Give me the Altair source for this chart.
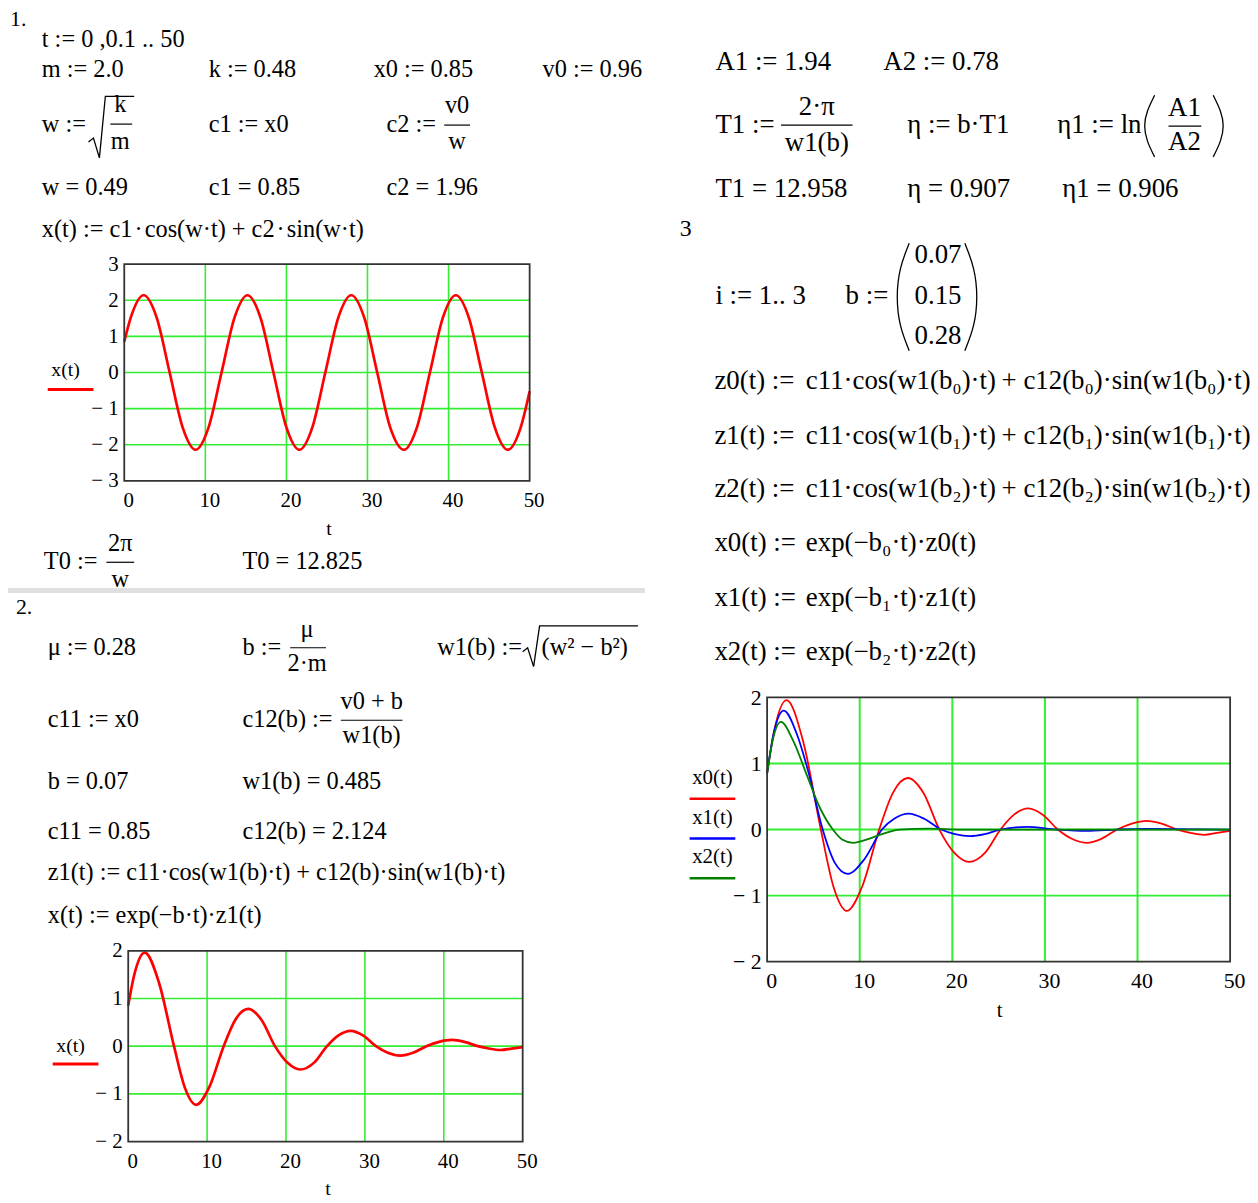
import altair as alt
import pandas as pd

# ---------------- values ----------------
# plot 1: free oscillation x(t)
t_free = [0, 0.8, 2.4, 4.0, 5.6, 7.2, 8.8, 10.4, 12.0, 13.6, 15.2, 16.8, 18.4, 20.0, 21.6, 23.2, 24.8,
          26.4, 28.0, 29.6, 31.2, 32.8, 34.5, 36.1, 37.7, 39.3, 40.9, 42.5, 44.1, 45.7, 47.3, 48.9, 50]
x_free = [0.85, 1.52, 2.14, 1.52, 0.0, -1.52, -2.14, -1.52, 0.0, 1.52, 2.14, 1.52, 0.0, -1.52, -2.14, -1.52, 0.0,
          1.52, 2.14, 1.52, 0.0, -1.52, -2.14, -1.52, 0.0, 1.52, 2.14, 1.52, 0.0, -1.52, -2.14, -1.52, -0.52]

# plot 2 and red curve of plot 3: damped, b0 = 0.07
t_b0 = [0, 0.7, 2.1, 3.9, 5.8, 7.2, 8.6, 10.3, 12.1, 13.6, 15.2, 16.9, 18.6, 20.2, 21.8, 23.6, 25.2,
        26.7, 28.2, 29.8, 31.4, 32.9, 34.5, 36.1, 37.8, 39.4, 41.0, 42.6, 44.3, 45.7, 47.2, 48.6, 50]
x_b0 = [0.85, 1.45, 1.96, 1.33, 0.0, -0.88, -1.23, -0.85, 0.0, 0.56, 0.78, 0.55, 0.0, -0.35, -0.49, -0.34, 0.0,
        0.23, 0.32, 0.22, 0.0, -0.14, -0.20, -0.14, 0.0, 0.09, 0.13, 0.09, 0.0, -0.05, -0.08, -0.05, -0.02]

# plot 3 blue: b1 = 0.15
t_b1 = [0, 0.7, 1.8, 3.2, 4.5, 6.0, 7.3, 8.7, 10.5, 12.4, 13.8, 15.3, 17.0, 18.8, 20.3, 21.9, 23.5, 25.2,
        28.0, 31.3, 34.5, 37.8, 41.0, 50]
x_b1 = [0.85, 1.45, 1.80, 1.45, 0.85, 0.0, -0.50, -0.67, -0.45, 0.0, 0.17, 0.24, 0.16, 0.0, -0.07, -0.10, -0.07, 0.0,
        0.04, 0.0, -0.02, 0.0, 0.01, 0.0]

# plot 3 green: b2 = 0.28
t_b2 = [0, 0.6, 1.5, 2.8, 4.3, 5.7, 7.1, 8.1, 9.3, 10.8, 12.4, 14.3, 17.5, 21.0, 50]
x_b2 = [0.85, 1.35, 1.63, 1.35, 0.82, 0.33, 0.0, -0.15, -0.20, -0.15, -0.07, 0.0, 0.015, 0.0, 0.0]

x_ticks = [0, 10, 20, 30, 40, 50]
y_ticks_free = [-3, -2, -1, 0, 1, 2, 3]
y_ticks_damped = [-2, -1, 0, 1, 2]
grid_t = [10, 20, 30, 40]
grid_free = [-2, -1, 0, 1, 2]
grid_damped = [-1, 0, 1]

# ---------------- layout ----------------
W, H = 1250, 1195
M = 8
FONT = "Liberation Serif"
GRID = "#33ee33"
FRAME = "#333333"
HS = "\u200a"   # hair space for Mathcad-like operator spacing
TY = -2         # small vertical correction for text


def P(v):
    return v - M


def make_plot(curves, xl, xr, yt, yb, ydom, yticks, ygrid, lsize, gw):
    xs = alt.Scale(domain=[0, 50], range=[P(xl), P(xr)], nice=False, zero=False)
    ys = alt.Scale(domain=ydom, range=[P(yb), P(yt)], nice=False, zero=False)
    common = dict(labelFont=FONT, labelFontSize=lsize, labelColor="black", ticks=False, tickSize=0,
                  domain=False, grid=False, title=None, labelFlush=False, labelOverlap=False,
                  labelExpr="datum.value < 0 ? '\u2212 ' + (-datum.value) : '' + datum.value")
    xaxis = alt.Axis(orient="bottom", offset=P(yb) - H, values=x_ticks, labelPadding=9, labelOffset=4, **common)
    yaxis = alt.Axis(orient="left", offset=-P(xl), values=yticks, labelPadding=6, **common)

    vgrid = alt.Chart(pd.DataFrame({"g": grid_t, "a": ydom[0], "b": ydom[1]})).mark_rule(
        color=GRID, strokeWidth=gw).encode(
        x=alt.X("g:Q", scale=xs, axis=xaxis), y=alt.Y("a:Q", scale=ys, axis=yaxis), y2="b:Q")
    hgrid = alt.Chart(pd.DataFrame({"g": ygrid, "a": 0, "b": 50})).mark_rule(
        color=GRID, strokeWidth=gw).encode(
        y=alt.Y("g:Q", scale=ys, axis=yaxis), x=alt.X("a:Q", scale=xs, axis=xaxis), x2="b:Q")
    layers = [vgrid, hgrid]
    for t, v, col, lw in curves:
        layers.append(alt.Chart(pd.DataFrame({"t": t, "v": v})).mark_line(
            color=col, strokeWidth=lw, interpolate="monotone").encode(
            x=alt.X("t:Q", scale=xs, axis=xaxis), y=alt.Y("v:Q", scale=ys, axis=yaxis), order="t:Q"))
    frame = alt.Chart(pd.DataFrame({"x0": [0], "x1": [50], "y0": [ydom[0]], "y1": [ydom[1]]})).mark_rect(
        fill="transparent", stroke=FRAME, strokeWidth=1.8).encode(
        x=alt.X("x0:Q", scale=xs, axis=xaxis), x2="x1:Q",
        y=alt.Y("y0:Q", scale=ys, axis=yaxis), y2="y1:Q")
    layers.append(frame)
    return alt.layer(*layers)


plot1 = make_plot([(t_free, x_free, "#ff0000", 2.7)], 125, 533, 262, 480, [-3, 3],
                  y_ticks_free, grid_free, 21, 1.6)
plot2 = make_plot([(t_b0, x_b0, "#ff0000", 2.7)], 129, 526, 953, 1145, [-2, 2],
                  y_ticks_damped, grid_damped, 21, 1.6)
plot3 = make_plot([(t_b0, x_b0, "#ff0000", 1.8), (t_b1, x_b1, "#0000ff", 1.8), (t_b2, x_b2, "#008000", 1.8)],
                  772, 1238, 698, 964, [-2, 2], y_ticks_damped, grid_damped, 22, 2)

# ---------------- worksheet text ----------------
L = 24.5
R = 27
left_items = [
    ("1.", 10, 17, 22), ("t := 0 ,0.1 .. 50", 42, 38, L),
    ("m := 2.0", 42, 69, L), ("k := 0.48", 210, 69, L), ("x0 := 0.85", 376, 69, L), ("v0 := 0.96", 546, 69, L),
    ("w :=", 42, 124, L), ("c1 := x0", 210, 124, L), ("c2 :=", 389, 124, L),
    ("w = 0.49", 42, 187, L), ("c1 = 0.85", 210, 187, L), ("c2 = 1.96", 389, 187, L),
    (f"x(t) := c1{HS}·{HS}cos(w·t) + c2{HS}·{HS}sin(w·t)", 42, 230, L),
    ("T0 :=", 44, 564, L), ("T0 = 12.825", 244, 564, L),
    ("2.", 16, 609, 22),
    ("μ := 0.28", 48, 650, L), ("b :=", 244, 650, L), ("w1(b) :=", 440, 650, L), ("(w² − b²)", 545, 650, L),
    ("c11 := x0", 48, 723, L), ("c12(b) :=", 244, 723, L),
    ("b = 0.07", 48, 785, L), ("w1(b) = 0.485", 244, 785, L),
    ("c11 = 0.85", 48, 836, L), ("c12(b) = 2.124", 244, 836, L),
    ("z1(t) := c11·cos(w1(b)·t) + c12(b)·sin(w1(b)·t)", 48, 877, L),
    ("x(t) := exp(−b·t)·z1(t)", 48, 920, L),
    ("A1 := 1.94", 720, 61, R), ("A2 := 0.78", 889, 61, R),
    ("T1 :=", 720, 124, R), ("η := b·T1", 913, 124, R), ("η1 := ln", 1064, 124, R),
    ("T1 = 12.958", 720, 188, R), ("η = 0.907", 913, 188, R), ("η1 = 0.906", 1069, 188, R),
    ("3", 684, 229, 24), ("i := 1.. 3", 720, 296, R), ("b :=", 851, 296, R),
]
subs = ["₀", "₁", "₂"]
for k, y in enumerate([382, 437, 490]):
    s = subs[k]
    left_items += [(f"z{k}(t) :=", 719, y, R), (f"c11·cos(w1(b{s})·t)", 811, y, R), ("+", 1008, y, R),
                   (f"c12(b{s})·sin(w1(b{s})·t)", 1030, y, R)]
for k, y in enumerate([545, 600, 654]):
    s = subs[k]
    left_items += [(f"x{k}(t) :=", 719, y, R), (f"exp(−b{s}·t)·z{k}(t)", 811, y, R)]

center_items = [
    ("k", 121, 104, L), ("m", 121, 141, L), ("v0", 460, 105, L), ("w", 460, 141, L),
    ("x(t)", 66, 371, 20), ("t", 331, 531, 20),
    ("2π", 121, 546, L), ("w", 121, 582, L),
    ("μ", 309, 632, L), ("2·m", 309, 666, L),
    ("v0 + b", 374, 705, L), ("w1(b)", 374, 739, L),
    ("x(t)", 71, 1051, 20), ("t", 330, 1195, 20),
    ("2·π", 822, 106, R), ("w1(b)", 822, 142, R), ("A1", 1192, 107, R), ("A2", 1192, 141, R),
    ("0.07", 944, 255, R), ("0.15", 944, 296, R), ("0.28", 944, 336, R),
    ("x0(t)", 717, 781, 21), ("x1(t)", 717, 821, 21), ("x2(t)", 717, 861, 21), ("t", 1006, 1016, 21),
]


def text_df(items):
    return pd.DataFrame({"text": [i[0] for i in items], "x": [P(i[1]) for i in items],
                         "y": [P(i[2] + TY) for i in items], "size": [i[3] for i in items]})


def text_layer(items, align):
    return alt.Chart(text_df(items)).mark_text(align=align, baseline="middle", font=FONT, color="black").encode(
        x=alt.X("x:Q", scale=None, axis=None), y=alt.Y("y:Q", scale=None, axis=None),
        text="text:N", size=alt.Size("size:Q", scale=None))


# fraction bars and legend swatches (page pixels)
rule_items = [
    (111, 121, 133, 121, "black", 1.2), (447, 122, 473, 122, "black", 1.2), (107, 562, 135, 562, "black", 1.2),
    (292, 648, 328, 648, "black", 1.2), (343, 721, 405, 721, "black", 1.2), (786, 122, 858, 122, "black", 1.2),
    (1176, 123, 1209, 123, "black", 1.2),
    (48, 388, 94, 388, "#ff0000", 3), (53, 1067, 99, 1067, "#ff0000", 3),
    (694, 800, 740, 800, "#ff0000", 2.5), (694, 840, 740, 840, "#0000ff", 2.5), (694, 880, 740, 880, "#008000", 2.5),
]
rules_df = pd.DataFrame({"x": [P(r[0]) for r in rule_items], "y": [P(r[1]) for r in rule_items],
                         "x2": [P(r[2]) for r in rule_items], "y2": [P(r[3]) for r in rule_items],
                         "c": [r[4] for r in rule_items], "w": [r[5] for r in rule_items]})
rules = alt.Chart(rules_df).mark_rule(strokeCap="butt").encode(
    x=alt.X("x:Q", scale=None, axis=None), x2="x2:Q", y=alt.Y("y:Q", scale=None, axis=None), y2="y2:Q",
    color=alt.Color("c:N", scale=None), strokeWidth=alt.StrokeWidth("w:Q", scale=None))


def poly_df(polys):
    rows = []
    for pid, pts in enumerate(polys):
        for o, (x, y) in enumerate(pts):
            rows.append({"id": pid, "o": o, "x": P(x), "y": P(y)})
    return pd.DataFrame(rows)


radicals = [
    [(89, 139), (94, 135), (100, 155), (106, 93), (135, 93)],
    [(526, 652), (531, 648), (537, 667), (543, 626), (642, 626)],
]
parens = [
    [(1162, 92), (1154, 108), (1151, 123), (1154, 138), (1162, 154)],
    [(1221, 92), (1229, 108), (1232, 123), (1229, 138), (1221, 154)],
    [(915, 241), (905, 266), (902, 295), (905, 324), (915, 349)],
    [(971, 241), (981, 266), (984, 295), (981, 324), (971, 349)],
]
rad_layer = alt.Chart(poly_df(radicals)).mark_line(color="black", strokeWidth=1.3).encode(
    x=alt.X("x:Q", scale=None, axis=None), y=alt.Y("y:Q", scale=None, axis=None), detail="id:N", order="o:Q")
par_layer = alt.Chart(poly_df(parens)).mark_line(color="black", strokeWidth=1.3, interpolate="basis").encode(
    x=alt.X("x:Q", scale=None, axis=None), y=alt.Y("y:Q", scale=None, axis=None), detail="id:N", order="o:Q")

sep = alt.Chart(pd.DataFrame({"x": [P(6)], "x2": [P(649)], "y": [P(588)], "y2": [P(593)]})).mark_rect(
    color="#e0e0e0").encode(x=alt.X("x:Q", scale=None, axis=None), x2="x2:Q",
                            y=alt.Y("y:Q", scale=None, axis=None), y2="y2:Q")

chart = alt.layer(
    plot1, plot2, plot3, rules, rad_layer, par_layer,
    text_layer(left_items, "left"), text_layer(center_items, "center"), sep
).resolve_scale(x="independent", y="independent").resolve_axis(x="independent", y="independent").properties(
    width=W, height=H, padding=0, autosize=alt.AutoSizeParams(type="none"), background="white"
).configure_view(strokeWidth=0)

chart.save("out.html", embed_options={"renderer": "svg", "actions": False})
